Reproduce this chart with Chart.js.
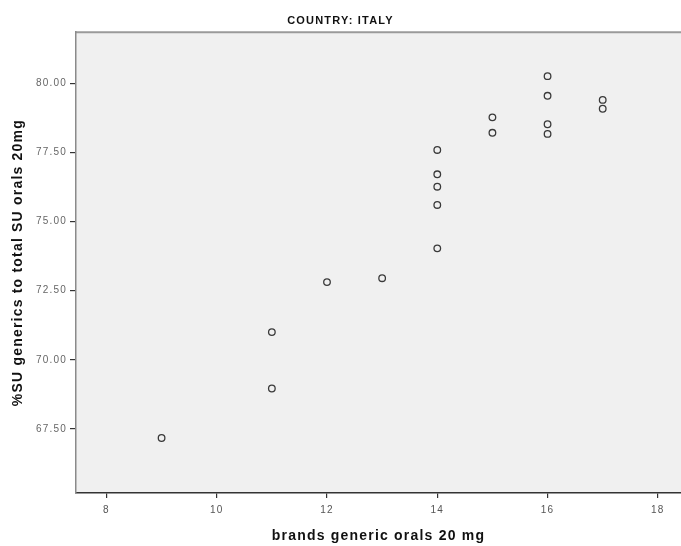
<!DOCTYPE html>
<html>
<head>
<meta charset="utf-8">
<script src="https://cdn.jsdelivr.net/npm/chart.js@4"></script>
<style>
html,body{margin:0;padding:0;background:#fff;overflow:hidden;}
canvas{display:block;}
</style>
</head>
<body>
<canvas id="c" width="681" height="546"></canvas>
<script>
const chartTitle = "COUNTRY: ITALY";
const xAxisTitle = "brands generic orals 20 mg";
const yAxisTitle = "%SU generics to total SU orals 20mg";
const brandsGeneric = [9, 11, 11, 12, 13, 14, 14, 14, 14, 14, 15, 15, 16, 16, 16, 16, 17, 17];
const pctGenerics = [67.17, 68.96, 71.00, 72.81, 72.95, 77.59, 76.71, 76.26, 75.60, 74.03, 78.77, 78.21, 80.26, 79.55, 78.52, 78.17, 79.40, 79.08];
const xTicks = [8, 10, 12, 14, 16, 18];
const yTicks = [67.5, 70, 72.5, 75, 77.5, 80];

const points = brandsGeneric.map((x, i) => ({x: x, y: pctGenerics[i]}));

function spacing(chart) { chart.ctx.letterSpacing = '1.2px'; }

const plotBg = {
  id: 'plotBg',
  beforeInit: spacing,
  beforeUpdate: spacing,
  beforeLayout: spacing,
  beforeDraw(chart) {
    spacing(chart);
    const {ctx, chartArea: a} = chart;
    ctx.save();
    ctx.fillStyle = '#f0f0f0';
    ctx.fillRect(a.left, a.top, a.right - a.left, a.bottom - a.top);
    ctx.strokeStyle = '#9a9a9a';
    ctx.lineWidth = 2;
    ctx.beginPath();
    ctx.moveTo(a.left, a.top);
    ctx.lineTo(a.right, a.top);
    ctx.stroke();
    ctx.restore();
  }
};

new Chart(document.getElementById('c'), {
  type: 'scatter',
  data: {
    datasets: [{
      data: points,
      pointStyle: 'circle',
      pointRadius: 3.3,
      pointHoverRadius: 3.3,
      borderWidth: 1.3,
      borderColor: '#3a3a3a',
      backgroundColor: 'rgba(0,0,0,0)'
    }]
  },
  options: {
    responsive: false,
    animation: false,
    devicePixelRatio: 1,
    layout: {padding: 0, autoPadding: false},
    plugins: {
      legend: {display: false},
      tooltip: {enabled: false},
      title: {
        display: true,
        text: chartTitle,
        color: '#111',
        font: {family: 'Liberation Sans Narrow, Liberation Sans, Arial', size: 11, weight: 'bold'},
        padding: {top: 14, bottom: 5}
      }
    },
    scales: {
      x: {
        type: 'linear',
        min: 7.448,
        max: 18.42,
        afterBuildTicks: s => { s.ticks = xTicks.map(v => ({value: v})); },
        afterFit: s => { s.height = 53; s.paddingRight = 0; s.paddingLeft = 0; },
        grid: {drawOnChartArea: false, drawTicks: true, tickLength: 5, color: '#333', lineWidth: 1.2},
        border: {display: true, color: '#333', width: 1.5},
        ticks: {
          color: '#555',
          font: {family: 'Liberation Sans Narrow, Liberation Sans, Arial', size: 10},
          padding: 6,
          maxRotation: 0
        },
        title: {
          display: true,
          text: xAxisTitle,
          color: '#111',
          font: {family: 'Liberation Sans, Arial', size: 14, weight: 'bold'},
          padding: {top: 0, bottom: 1}
        }
      },
      y: {
        type: 'linear',
        min: 65.18,
        max: 81.85,
        afterBuildTicks: s => { s.ticks = yTicks.map(v => ({value: v})); },
        afterFit: s => { s.width = 76; s.paddingTop = 0; s.paddingBottom = 0; },
        grid: {drawOnChartArea: false, drawTicks: true, tickLength: 6, color: '#333', lineWidth: 1.2},
        border: {display: true, color: '#8a8a8a', width: 1.5},
        ticks: {
          color: '#666',
          font: {family: 'Liberation Sans Narrow, Liberation Sans, Arial', size: 10},
          padding: 3,
          callback: v => Number(v).toFixed(2)
        },
        title: {
          display: true,
          text: yAxisTitle,
          color: '#111',
          font: {family: 'Liberation Sans, Arial', size: 14, weight: 'bold'},
          padding: {top: 10, bottom: 0}
        }
      }
    }
  },
  plugins: [plotBg]
});
</script>
</body>
</html>
